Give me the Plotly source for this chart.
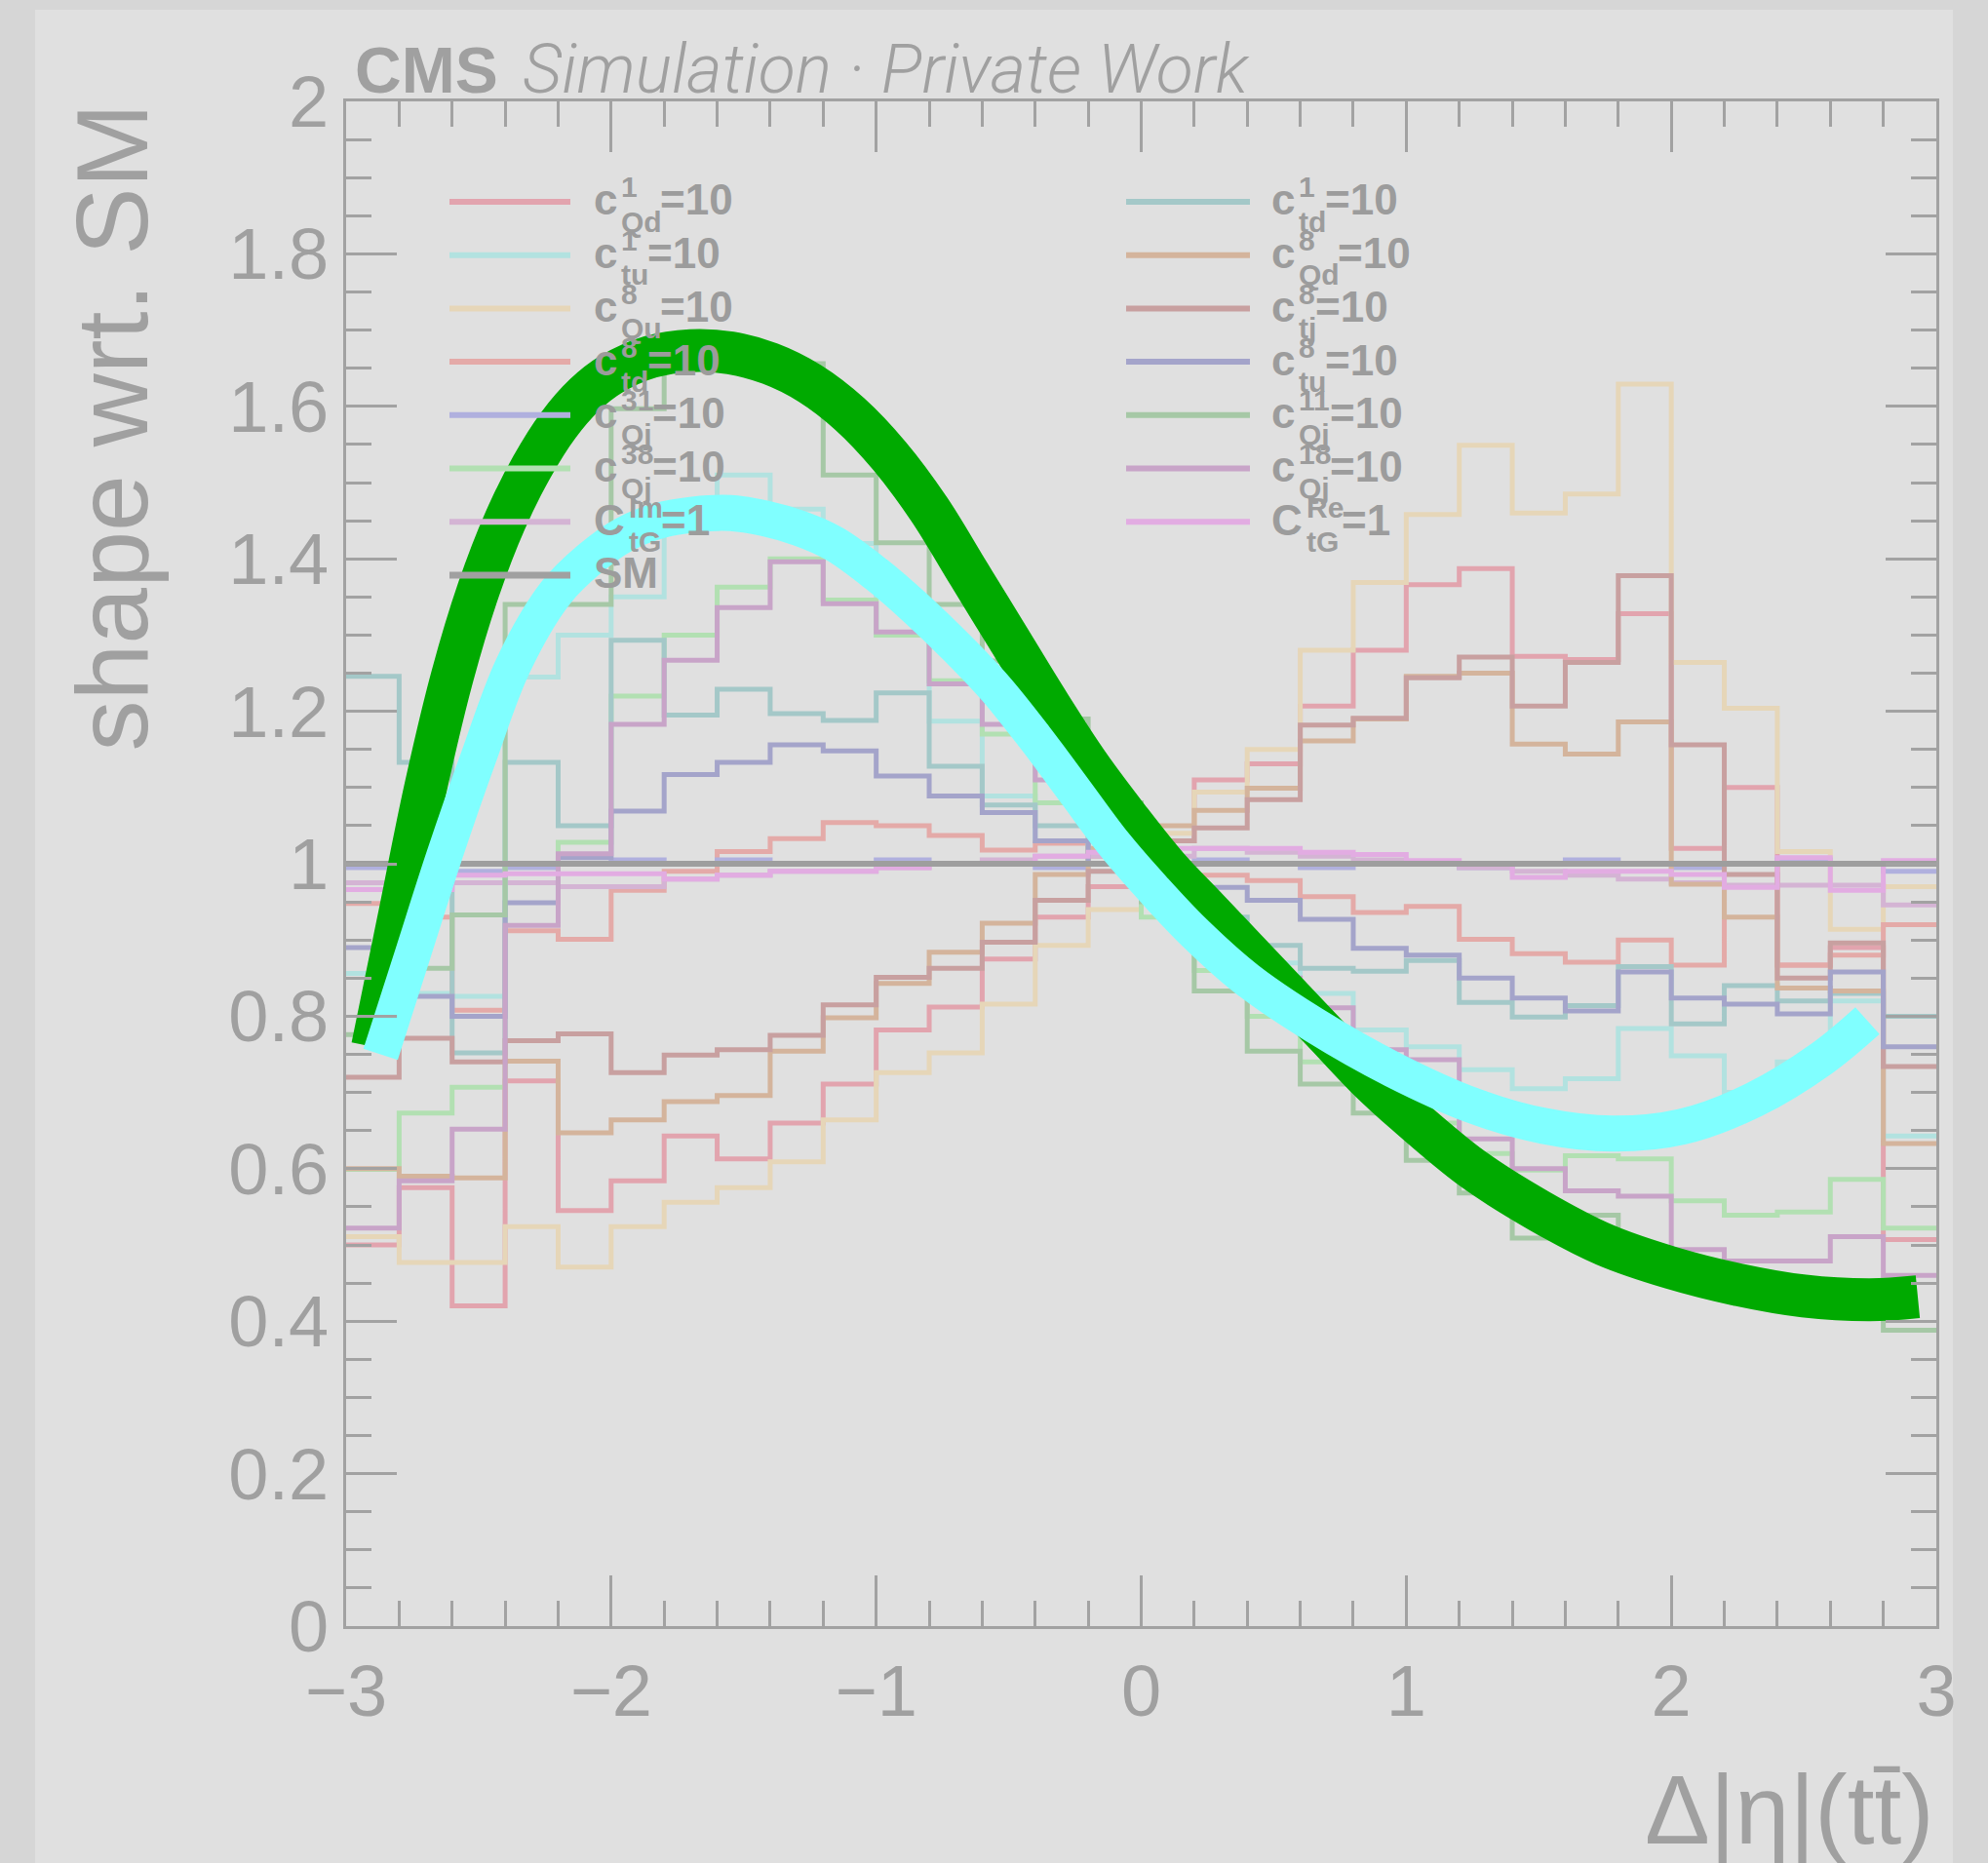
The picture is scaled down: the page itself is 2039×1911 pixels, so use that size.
import plotly.graph_objects as go

# ---------------- data ----------------
bin_edges = [-3.0, -2.8, -2.6, -2.4, -2.2, -2.0, -1.8, -1.6, -1.4, -1.2, -1.0,
             -0.8, -0.6, -0.4, -0.2, 0.0, 0.2, 0.4, 0.6, 0.8, 1.0,
             1.2, 1.4, 1.6, 1.8, 2.0, 2.2, 2.4, 2.6, 2.8, 3.0]

c1_Qd = [0.50, 0.575, 0.42, 0.715, 0.545, 0.584, 0.643, 0.613, 0.66, 0.711,
         0.782, 0.812, 0.875, 0.93, 0.97, 1.03, 1.11, 1.131, 1.207, 1.28,
         1.366, 1.387, 1.272, 1.268, 1.328, 1.02, 1.10, 0.867, 0.89, 0.507]
c1_tu = [0.856, 0.83, 0.826, 1.245, 1.30, 1.35, 1.44, 1.51, 1.465, 1.42,
         1.30, 1.187, 1.089, 1.03, 0.99, 0.95, 0.92, 0.87, 0.83, 0.782,
         0.76, 0.73, 0.705, 0.718, 0.784, 0.748, 0.70, 0.74, 0.82, 0.643]
c8_Qu = [0.511, 0.477, 0.477, 0.524, 0.471, 0.524, 0.556, 0.575, 0.609, 0.664,
         0.726, 0.752, 0.816, 0.893, 0.94, 1.04, 1.094, 1.15, 1.28, 1.369,
         1.458, 1.549, 1.46, 1.485, 1.629, 1.264, 1.204, 1.016, 0.914, 0.97]
c8_td = [0.948, 0.93, 0.808, 0.912, 0.901, 0.965, 0.99, 1.016, 1.033, 1.054,
         1.05, 1.037, 1.018, 1.027, 1.01, 0.99, 0.985, 0.978, 0.957, 0.936,
         0.944, 0.901, 0.882, 0.871, 0.90, 0.867, 1.0, 0.867, 0.88, 0.92]
c31_Qj = [0.995, 1.0, 0.99, 0.995, 1.0, 1.005, 1.0, 1.005, 1.0, 1.0,
          1.005, 1.0, 1.0, 0.995, 1.0, 1.0, 1.005, 1.0, 0.995, 1.0,
          1.0, 0.995, 1.0, 1.005, 1.0, 0.995, 1.0, 1.005, 1.0, 0.99]
c38_Qj = [0.599, 0.673, 0.707, 1.0, 1.028, 1.22, 1.30, 1.363, 1.40, 1.346,
          1.30, 1.24, 1.17, 1.08, 1.0, 0.93, 0.86, 0.80, 0.74, 0.70,
          0.66, 0.62, 0.598, 0.617, 0.613, 0.558, 0.539, 0.543, 0.586, 0.522]
cIm_tG = [0.975, 0.975, 0.975, 0.975, 0.97, 0.97, 0.98, 0.985, 0.99, 0.99,
          0.995, 1.0, 1.005, 1.01, 1.01, 1.01, 1.02, 1.015, 1.01, 1.005,
          1.0, 0.995, 0.99, 0.985, 0.98, 0.975, 0.972, 0.972, 0.972, 0.946]
sm = [1.0, 1.0, 1.0, 1.0, 1.0, 1.0, 1.0, 1.0, 1.0, 1.0,
      1.0, 1.0, 1.0, 1.0, 1.0, 1.0, 1.0, 1.0, 1.0, 1.0,
      1.0, 1.0, 1.0, 1.0, 1.0, 1.0, 1.0, 1.0, 1.0, 1.0]
c1_td = [1.246, 1.133, 0.752, 1.133, 1.05, 1.293, 1.195, 1.229, 1.197, 1.188,
         1.224, 1.128, 1.077, 1.05, 1.0, 0.97, 0.93, 0.893, 0.863, 0.859,
         0.873, 0.818, 0.799, 0.814, 0.865, 0.79, 0.84, 0.82, 0.83, 0.80]
c8_Qd = [0.60, 0.59, 0.588, 0.741, 0.647, 0.664, 0.688, 0.696, 0.754, 0.798,
         0.843, 0.884, 0.922, 0.986, 1.02, 1.05, 1.07, 1.099, 1.161, 1.19,
         1.246, 1.25, 1.157, 1.144, 1.186, 0.973, 0.93, 0.837, 0.833, 0.633]
c8_tj = [0.72, 0.771, 0.74, 0.768, 0.777, 0.726, 0.749, 0.756, 0.775, 0.815,
         0.851, 0.863, 0.897, 0.952, 0.99, 1.03, 1.047, 1.084, 1.182, 1.191,
         1.244, 1.271, 1.207, 1.264, 1.378, 1.156, 0.986, 0.85, 0.896, 0.734]
c8_tu = [0.89, 0.826, 0.80, 0.949, 1.008, 1.069, 1.117, 1.133, 1.156, 1.148,
         1.115, 1.089, 1.067, 1.03, 1.0, 0.99, 0.969, 0.952, 0.927, 0.889,
         0.88, 0.85, 0.824, 0.807, 0.858, 0.824, 0.816, 0.803, 0.858, 0.76]
c11_Qj = [0.776, 0.863, 0.933, 1.34, 1.34, 1.597, 1.65, 1.656, 1.656, 1.51,
          1.421, 1.34, 1.266, 1.19, 1.08, 0.95, 0.833, 0.754, 0.711, 0.673,
          0.611, 0.568, 0.509, 0.539, 0.47, 0.45, 0.44, 0.43, 0.43, 0.388]
c18_Qj = [0.522, 0.584, 0.652, 0.919, 1.013, 1.183, 1.267, 1.336, 1.396, 1.341,
          1.304, 1.236, 1.183, 1.11, 1.04, 0.97, 0.90, 0.85, 0.811, 0.756,
          0.743, 0.639, 0.60, 0.571, 0.564, 0.494, 0.479, 0.479, 0.511, 0.46]
cRe_tG = [0.966, 0.966, 0.985, 0.987, 0.987, 0.987, 0.98, 0.985, 0.99, 0.99,
          0.995, 1.0, 1.0, 1.01, 1.015, 1.02, 1.02, 1.02, 1.015, 1.012,
          1.004, 1.0, 0.982, 0.99, 0.99, 0.986, 0.969, 1.008, 0.965, 1.004]

# freehand trend curves drawn over the histograms
green_x = [-2.90, -2.80, -2.70, -2.60, -2.50, -2.40, -2.30, -2.20, -2.10, -2.00,
           -1.85, -1.70, -1.55, -1.40, -1.25, -1.10, -0.95, -0.80, -0.65, -0.50,
           -0.35, -0.20, -0.05, 0.10, 0.25, 0.40, 0.55, 0.70, 0.85, 1.00,
           1.25, 1.50, 1.75, 2.00, 2.25, 2.50, 2.75, 2.93]
green_y = [0.76, 0.93, 1.10, 1.245, 1.36, 1.45, 1.52, 1.575, 1.615, 1.642,
           1.665, 1.673, 1.670, 1.656, 1.630, 1.59, 1.535, 1.465, 1.38, 1.295,
           1.21, 1.13, 1.06, 0.995, 0.94, 0.885, 0.83, 0.775, 0.72, 0.672,
           0.60, 0.545, 0.50, 0.47, 0.448, 0.433, 0.428, 0.432]
cyan_x = [-2.87, -2.75, -2.63, -2.50, -2.37, -2.21, -2.08, -1.95, -1.82, -1.69,
          -1.55, -1.42, -1.29, -1.16, -1.00, -0.85, -0.70, -0.55, -0.40, -0.25,
          -0.10, 0.05, 0.20, 0.40, 0.65, 0.95, 1.25, 1.52, 1.78, 2.04,
          2.31, 2.57, 2.74]
cyan_y = [0.75, 0.88, 1.01, 1.14, 1.26, 1.355, 1.40, 1.432, 1.450, 1.458,
          1.460, 1.453, 1.440, 1.42, 1.38, 1.335, 1.285, 1.23, 1.165, 1.095,
          1.025, 0.965, 0.91, 0.848, 0.789, 0.73, 0.683, 0.656, 0.646, 0.655,
          0.69, 0.745, 0.794]

x_ticks = [-3, -2, -1, 0, 1, 2, 3]
x_ticklabels = ["\u22123", "\u22122", "\u22121", "0", "1", "2", "3"]
y_ticks = [0, 0.2, 0.4, 0.6, 0.8, 1.0, 1.2, 1.4, 1.6, 1.8, 2.0]
y_ticklabels = ["0", "0.2", "0.4", "0.6", "0.8", "1", "1.2", "1.4", "1.6", "1.8", "2"]

# legend: (values, colour, base, superscript, subscript, tail)
left_column = [
    (c1_Qd, "#e2a4ae", "c", "1", "Qd", "=10"),
    (c1_tu, "#b2e2e0", "c", "1", "tu", "=10"),
    (c8_Qu, "#e6d6b8", "c", "8", "Qu", "=10"),
    (c8_td, "#e4aaa8", "c", "8", "td", "=10"),
    (c31_Qj, "#b0b0de", "c", "31", "Qj", "=10"),
    (c38_Qj, "#b2e0b2", "c", "38", "Qj", "=10"),
    (cIm_tG, "#d4b4d4", "C", "Im", "tG", "=1"),
    (sm, "#a0a0a0", "SM", "", "", ""),
]
right_column = [
    (c1_td, "#a4c8c8", "c", "1", "td", "=10"),
    (c8_Qd, "#d4b49c", "c", "8", "Qd", "=10"),
    (c8_tj, "#c8a0a0", "c", "8", "tj", "=10"),
    (c8_tu, "#a4a4ca", "c", "8", "tu", "=10"),
    (c11_Qj, "#a6c8a6", "c", "11", "Qj", "=10"),
    (c18_Qj, "#c8a4c8", "c", "18", "Qj", "=10"),
    (cRe_tG, "#e2ace2", "C", "Re", "tG", "=1"),
]

# ---------------- geometry (pixels) ----------------
W, H = 2039, 1911
L, R, T, B = 355, 1986, 104, 1668
TXT = "#a0a0a0"
LEG_TXT = "#9c9c9c"
FRAME = "#a2a2a2"
FONT = "Liberation Sans, Arial, sans-serif"


def fx(px):
    return (px - L) / (R - L)


def fy(py):
    return (B - py) / (B - T)


# bold Arial-like advance widths in em, for laying out stacked indices
ADV = {"c": .556, "C": .722, "Q": .778, "d": .611, "t": .333, "u": .611,
       "j": .278, "l": .278, "G": .778, "I": .278, "m": .889, "R": .722,
       "e": .556, "S": .667, "M": .833, "=": .584}


def text_w(s, size):
    return sum(ADV.get(ch, .556) for ch in s) * size


fig = go.Figure()

# histograms, drawn as ROOT-style step outlines
for vals, col, *_ in left_column[:-1] + right_column:
    fig.add_trace(go.Scatter(x=bin_edges, y=vals + [vals[-1]], mode="lines",
                             line=dict(color=col, width=5, shape="hv"),
                             hoverinfo="skip", showlegend=False))
fig.add_trace(go.Scatter(x=bin_edges, y=sm + [sm[-1]], mode="lines",
                         line=dict(color="#9e9e9e", width=6, shape="hv"),
                         hoverinfo="skip", showlegend=False))

# freehand curves
fig.add_trace(go.Scatter(x=green_x, y=green_y, mode="lines",
                         line=dict(color="#00aa00", width=44, shape="spline", smoothing=1.0),
                         hoverinfo="skip", showlegend=False))
fig.add_trace(go.Scatter(x=cyan_x, y=cyan_y, mode="lines",
                         line=dict(color="#80ffff", width=37, shape="spline", smoothing=1.0),
                         hoverinfo="skip", showlegend=False))

# invisible helper trace for the mirrored (top/right) axes
fig.add_trace(go.Scatter(x=[0], y=[1], xaxis="x2", yaxis="y2", mode="markers",
                         marker=dict(opacity=0), hoverinfo="skip", showlegend=False))

shapes = [
    dict(type="rect", xref="paper", yref="paper", x0=fx(36), x1=fx(2003), y0=fy(10), y1=fy(H + 5),
         fillcolor="#e0e0e0", line=dict(width=0), layer="below"),
]
annotations = []


def leg_text(s, px, py, size):
    return dict(text="<b>%s</b>" % s, x=fx(px), y=fy(py), xref="paper", yref="paper",
                xanchor="left", yanchor="middle", showarrow=False,
                font=dict(size=size, color=LEG_TXT, family=FONT))


# legend
BASE, IDX = 44, 30
y0_leg, dy_leg = 207, 54.7
for column, (lx0, lx1, tx) in ((left_column, (461, 585, 607)), (right_column, (1155, 1282, 1302))):
    for i, (vals, col, base, sup, sub, tail) in enumerate(column):
        yc = y0_leg + i * dy_leg
        lw = 7 if base == "SM" else 6
        shapes.append(dict(type="line", xref="paper", yref="paper", x0=fx(lx0), x1=fx(lx1),
                           y0=fy(yc), y1=fy(yc), line=dict(color=col, width=lw)))
        annotations.append(leg_text(base, tx, yc - 2, BASE))
        if sup or sub:
            ix = tx + text_w(base, BASE) + 4
            annotations.append(leg_text(sup, ix, yc - 15, IDX))
            annotations.append(leg_text(sub, ix, yc + 20, IDX))
            tail_x = ix + max(text_w(sup, IDX), text_w(sub, IDX)) - 2
            annotations.append(leg_text(tail, tail_x, yc - 2, BASE))

# header
annotations.append(dict(text="<b>CMS</b>", x=fx(362), y=fy(72), xref="paper", yref="paper",
                        xanchor="left", yanchor="middle", showarrow=False,
                        font=dict(size=66, color=TXT, family=FONT)))
annotations.append(dict(text="Simulation \u00b7 Private Work", x=fx(534), y=fy(71),
                        xref="paper", yref="paper", xanchor="left", yanchor="middle",
                        showarrow=False,
                        font=dict(size=70, color=TXT, family="Roboto, Liberation Sans, sans-serif",
                                  weight=300, style="italic")))
# axis titles
annotations.append(dict(text="shape wrt. SM", x=fx(114), y=1.0, xref="paper", yref="paper",
                        xanchor="center", yanchor="top", textangle=-90, showarrow=False,
                        font=dict(size=104, color=TXT, family=FONT)))
annotations.append(dict(text="\u0394|\u03b7|(tt\u0304)", x=1.0, y=fy(1856), xref="paper", yref="paper",
                        xanchor="right", yanchor="middle", showarrow=False,
                        font=dict(size=100, color=TXT, family=FONT)))

axis_common = dict(showgrid=False, zeroline=False, showline=True, linecolor=FRAME, linewidth=3,
                   ticks="inside", ticklen=52, tickwidth=3, tickcolor=FRAME)

fig.update_layout(
    width=W, height=H,
    margin=dict(l=L, r=W - R, t=T, b=H - B, pad=0),
    paper_bgcolor="#d6d6d6", plot_bgcolor="rgba(0,0,0,0)",
    showlegend=False,
    xaxis=dict(range=[-3, 3], tickvals=x_ticks, ticktext=x_ticklabels,
               tickfont=dict(size=74, color=TXT, family=FONT), ticklabelstandoff=0,
               minor=dict(ticks="inside", ticklen=26, tickwidth=3, tickcolor=FRAME, dtick=0.2, tick0=-3),
               **axis_common),
    yaxis=dict(range=[0, 2], tickvals=y_ticks, ticktext=y_ticklabels,
               tickfont=dict(size=74, color=TXT, family=FONT), ticklabelstandoff=0,
               minor=dict(ticks="inside", ticklen=26, tickwidth=3, tickcolor=FRAME, dtick=0.05, tick0=0),
               **axis_common),
    xaxis2=dict(range=[-3, 3], overlaying="x", side="top", tickvals=x_ticks, showticklabels=False,
                minor=dict(ticks="inside", ticklen=26, tickwidth=3, tickcolor=FRAME, dtick=0.2, tick0=-3),
                **axis_common),
    yaxis2=dict(range=[0, 2], overlaying="y", side="right", tickvals=y_ticks, showticklabels=False,
                minor=dict(ticks="inside", ticklen=26, tickwidth=3, tickcolor=FRAME, dtick=0.05, tick0=0),
                **axis_common),
    shapes=shapes,
    annotations=annotations,
)

fig.write_html("out.html")
